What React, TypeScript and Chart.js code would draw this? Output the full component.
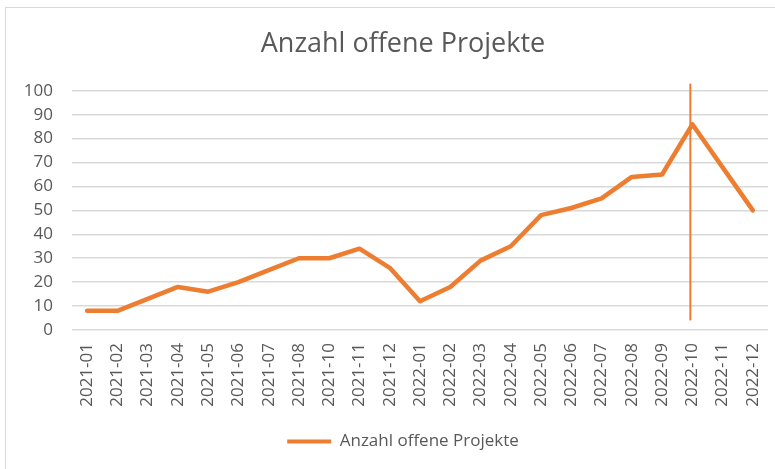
import React, { useEffect, useRef } from 'react';
import { Chart, registerables } from 'chart.js';

Chart.register(...registerables);

const chartTitle = 'Anzahl offene Projekte';
const seriesLabel = 'Anzahl offene Projekte';
const categories = [
  '2021-01', '2021-02', '2021-03', '2021-04', '2021-05', '2021-06', '2021-07', '2021-08',
  '2021-10', '2021-11', '2021-12',
  '2022-01', '2022-02', '2022-03', '2022-04', '2022-05', '2022-06', '2022-07', '2022-08',
  '2022-09', '2022-10', '2022-11', '2022-12',
];
const openProjects = [8, 8, 13, 18, 16, 20, 25, 30, 30, 34, 26, 12, 18, 29, 35, 48, 51, 55, 64, 65, 86, 68, 50];
const yMin = 0;
const yMax = 100;
const yStep = 10;
const markerCategory = '2022-10';
const markerRange = [4, 103];

const ORANGE = '#ED7D31';
const TEXT = '#595959';
const GRID = '#d9d9d9';
const FONT = "'Open Sans', sans-serif";

const markerPlugin = {
  id: 'markerLine',
  afterDatasetsDraw(chart: any) {
    const xs = chart.scales.x;
    const ys = chart.scales.y;
    const idx = categories.indexOf(markerCategory);
    if (idx < 0) return;
    const x = xs.getPixelForValue(idx) - 2;
    const ctx = chart.ctx;
    ctx.save();
    ctx.strokeStyle = ORANGE;
    ctx.lineWidth = 2;
    ctx.beginPath();
    ctx.moveTo(x, ys.getPixelForValue(markerRange[0]));
    ctx.lineTo(x, ys.getPixelForValue(markerRange[1]));
    ctx.stroke();
    ctx.restore();
  },
};

export default function App() {
  const ref = useRef<HTMLCanvasElement>(null);
  useEffect(() => {
    document.body.style.margin = '0';
    const font = { family: FONT, size: 17 };
    const chart = new Chart(ref.current as HTMLCanvasElement, {
      type: 'line',
      data: {
        labels: categories,
        datasets: [
          {
            label: seriesLabel,
            data: openProjects,
            borderColor: ORANGE,
            backgroundColor: ORANGE,
            borderWidth: 4.5,
            pointRadius: 0,
            tension: 0,
            borderCapStyle: 'round',
            borderJoinStyle: 'round',
          },
        ],
      },
      options: {
        responsive: false,
        animation: false,
        layout: { padding: { left: 10, right: 0, top: 0, bottom: 9 } },
        plugins: {
          title: {
            display: true,
            text: chartTitle,
            color: TEXT,
            font: { family: FONT, size: 27, weight: 'normal' },
            padding: { top: 28, bottom: 30.4 },
          },
          legend: {
            position: 'bottom',
            labels: {
              color: TEXT,
              font: { family: FONT, size: 17 },
              boxWidth: 44,
              boxHeight: 4,
              padding: 10,
              generateLabels: (c: any) =>
                Chart.defaults.plugins.legend.labels
                  .generateLabels(c)
                  .map((l: any) => ({ ...l, lineWidth: 0, fillStyle: ORANGE })),
            },
          },
          tooltip: { enabled: false },
        },
        scales: {
          x: {
            offset: true,
            grid: { display: false, drawTicks: false },
            border: { display: false },
            ticks: {
              color: TEXT,
              font,
              minRotation: 90,
              maxRotation: 90,
              autoSkip: false,
              padding: 13,
            },
            afterFit: (s: any) => {
              s.height = 93;
            },
          },
          y: {
            min: yMin,
            max: yMax,
            grid: { color: GRID, lineWidth: 1.5, drawTicks: false },
            border: { display: false },
            ticks: { stepSize: yStep, color: TEXT, font, padding: 19 },
            afterFit: (s: any) => {
              s.width = 62;
            },
          },
          yRight: {
            position: 'right',
            display: true,
            grid: { display: false, drawTicks: false },
            border: { display: false },
            ticks: { display: false },
            afterFit: (s: any) => {
              s.width = 28;
            },
          },
        },
      },
      plugins: [markerPlugin],
    });
    return () => chart.destroy();
  }, []);

  return (
    <div style={{ position: 'relative', width: 775, height: 469, overflow: 'hidden', background: '#fff' }}>
      <div
        style={{
          position: 'absolute',
          left: 5,
          top: 7,
          width: 830,
          height: 530,
          border: '1.5px solid #d9d9d9',
          boxSizing: 'border-box',
        }}
      />
      <canvas
        ref={ref}
        width={796}
        height={469}
        style={{ position: 'absolute', left: 0, top: 0, width: 796, height: 469 }}
      />
    </div>
  );
}
